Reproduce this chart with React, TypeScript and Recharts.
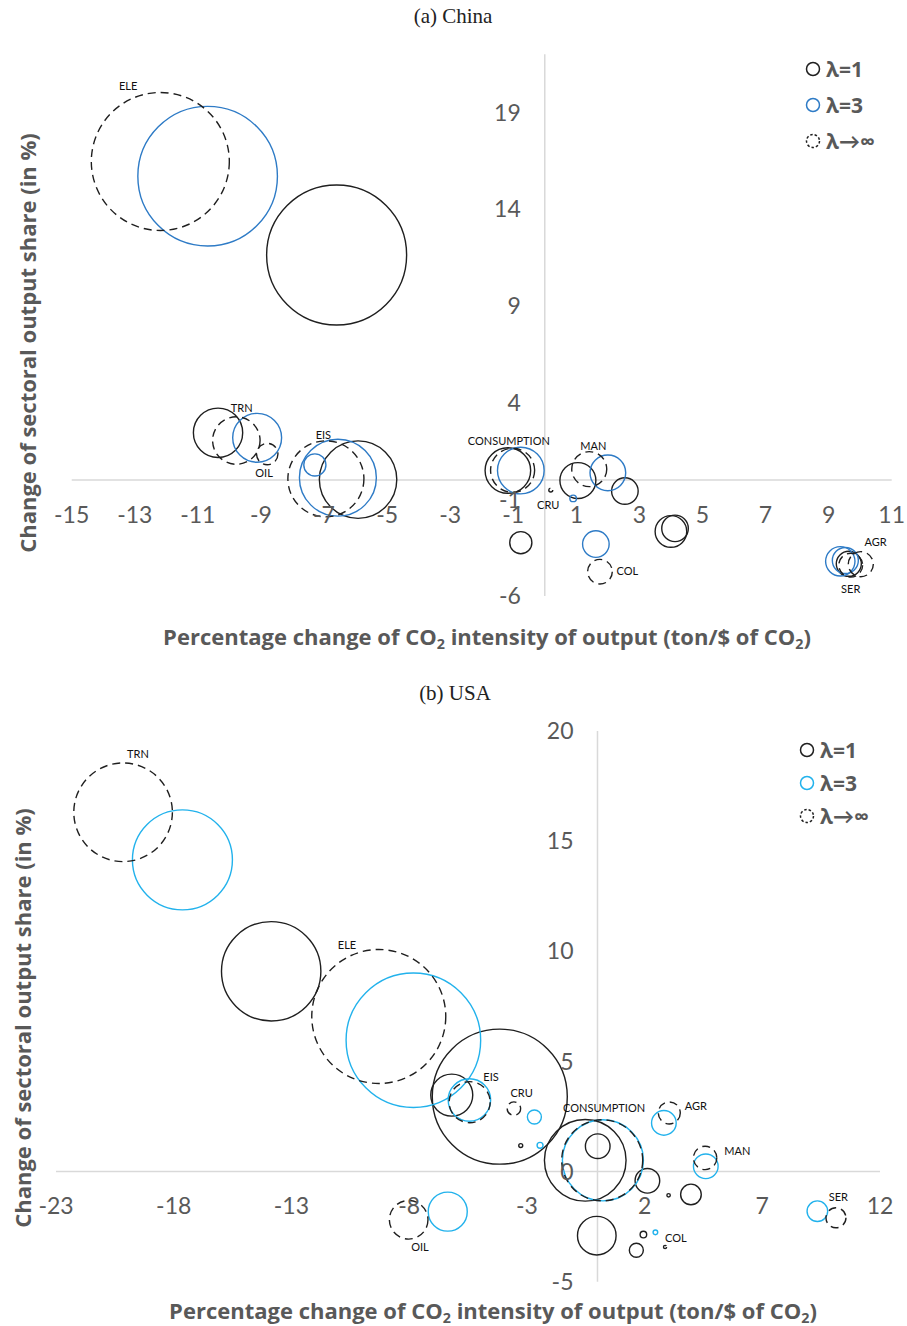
import React from 'react'
import { ScatterChart, Scatter, XAxis, YAxis, ZAxis, ReferenceLine, ReferenceDot, Legend } from 'recharts'

type Pt = { sector: string; x: number; y: number; z: number }
type Tag = { text: string; x: number; y: number }

const FONT = 'Lato, "Open Sans", sans-serif'
const BOLD_FONT = '"Open Sans", Lato, sans-serif'
const GREY = '#595959'
const INK = '#1f1f1f'

// (a) China  x: CO2 intensity change, y: output share change, z: bubble size
const chinaLambda1: Pt[] = [
  { sector: 'ELE', x: -6.6, y: 11.63, z: 100 },
  { sector: 'TRN', x: -10.36, y: 2.44, z: 12.4 },
  { sector: 'EIS', x: -5.92, y: 0.02, z: 30.6 },
  { sector: 'CONSUMPTION', x: -1.17, y: 0.49, z: 10.6 },
  { sector: 'MAN', x: 1.05, y: -0.03, z: 6.6 },
  { sector: 'COL', x: 2.54, y: -0.57, z: 3.6 },
  { sector: 'OIL', x: -0.76, y: -3.24, z: 2.5 },
  { sector: 'CRU', x: 4.13, y: -2.5, z: 3.6 },
  { sector: 'AGR', x: 4.0, y: -2.66, z: 5.1 },
  { sector: 'SER', x: 9.64, y: -4.33, z: 3.2 },
]
const chinaLambda3: Pt[] = [
  { sector: 'ELE', x: -10.69, y: 15.7, z: 99.4 },
  { sector: 'TRN', x: -9.12, y: 2.18, z: 12.2 },
  { sector: 'OIL', x: -7.29, y: 0.78, z: 2.5 },
  { sector: 'EIS', x: -6.56, y: 0.12, z: 30.2 },
  { sector: 'CONSUMPTION', x: -0.76, y: 0.49, z: 11.1 },
  { sector: 'CRU', x: 0.9, y: -0.95, z: 0.22 },
  { sector: 'MAN', x: 2.0, y: 0.37, z: 6.5 },
  { sector: 'COL', x: 1.62, y: -3.31, z: 3.6 },
  { sector: 'SER', x: 9.37, y: -4.2, z: 4.4 },
  { sector: 'AGR', x: 9.53, y: -4.16, z: 3.45 },
]
const chinaLambdaInf: Pt[] = [
  { sector: 'ELE', x: -12.19, y: 16.46, z: 97.2 },
  { sector: 'TRN', x: -9.78, y: 2.04, z: 11.5 },
  { sector: 'OIL', x: -8.8, y: 1.34, z: 2.34 },
  { sector: 'EIS', x: -6.94, y: 0.06, z: 29.5 },
  { sector: 'CONSUMPTION', x: -1.02, y: 0.5, z: 9.9 },
  { sector: 'CRU', x: 0.19, y: -0.52, z: 0.08 },
  { sector: 'MAN', x: 1.41, y: 0.56, z: 6.25 },
  { sector: 'COL', x: 1.75, y: -4.74, z: 3.1 },
  { sector: 'AGR', x: 10.02, y: -4.35, z: 3.2 },
  { sector: 'SER', x: 9.7, y: -4.4, z: 2.9 },
]
const chinaXTicks = [-15, -13, -11, -9, -7, -5, -3, -1, 1, 3, 5, 7, 9, 11]
const chinaYTicks = [-6, -1, 4, 9, 14, 19]
const chinaTags: Tag[] = [
  { text: 'ELE', x: -13.21, y: 20.36 },
  { text: 'TRN', x: -9.61, y: 3.71 },
  { text: 'OIL', x: -8.9, y: 0.38 },
  { text: 'EIS', x: -7.02, y: 2.33 },
  { text: 'CONSUMPTION', x: -1.14, y: 2.03 },
  { text: 'MAN', x: 1.54, y: 1.77 },
  { text: 'CRU', x: 0.11, y: -1.29 },
  { text: 'COL', x: 2.62, y: -4.7 },
  { text: 'AGR', x: 10.49, y: -3.22 },
  { text: 'SER', x: 9.7, y: -5.65 },
]

// (b) USA
const usaLambda1: Pt[] = [
  { sector: 'TRN', x: -13.86, y: 9.09, z: 50.4 },
  { sector: 'ELE', x: -4.15, y: 3.4, z: 93 },
  { sector: 'EIS', x: -6.19, y: 3.47, z: 9 },
  { sector: 'CONSUMPTION', x: -0.52, y: 0.51, z: 34 },
  { sector: 'MAN', x: 0.01, y: 1.15, z: 3.1 },
  { sector: 'AGR', x: 2.12, y: -0.42, z: 3.1 },
  { sector: 'SER', x: 3.97, y: -1.04, z: 2.17 },
  { sector: 'OIL', x: -0.03, y: -2.91, z: 7.6 },
  { sector: 'CRU', x: 1.65, y: -3.57, z: 1 },
  { sector: 'COL', x: 1.95, y: -2.86, z: 0.22 },
  { sector: 'GAS', x: -3.26, y: 1.18, z: 0.08 },
  { sector: 'OTH', x: 3.02, y: -1.08, z: 0.06 },
]
const usaLambda3: Pt[] = [
  { sector: 'TRN', x: -17.63, y: 14.15, z: 51 },
  { sector: 'ELE', x: -7.82, y: 5.96, z: 92.4 },
  { sector: 'EIS', x: -5.44, y: 3.25, z: 9.2 },
  { sector: 'CRU', x: -2.68, y: 2.48, z: 1 },
  { sector: 'CONSUMPTION', x: 0.23, y: 0.51, z: 33.5 },
  { sector: 'AGR', x: 2.82, y: 2.21, z: 3.1 },
  { sector: 'MAN', x: 4.6, y: 0.24, z: 3.1 },
  { sector: 'SER', x: 9.34, y: -1.8, z: 2.17 },
  { sector: 'OIL', x: -6.36, y: -1.82, z: 7.76 },
  { sector: 'COL', x: 2.46, y: -2.76, z: 0.11 },
  { sector: 'GAS', x: -2.44, y: 1.19, z: 0.18 },
]
const usaLambdaInf: Pt[] = [
  { sector: 'TRN', x: -20.15, y: 16.31, z: 49.6 },
  { sector: 'ELE', x: -9.29, y: 7.04, z: 91.6 },
  { sector: 'EIS', x: -5.43, y: 3.15, z: 8.6 },
  { sector: 'CRU', x: -3.55, y: 2.86, z: 0.92 },
  { sector: 'CONSUMPTION', x: 0.2, y: 0.51, z: 33.5 },
  { sector: 'AGR', x: 3.05, y: 2.66, z: 2.47 },
  { sector: 'MAN', x: 4.57, y: 0.62, z: 2.8 },
  { sector: 'SER', x: 10.13, y: -2.1, z: 2.04 },
  { sector: 'OIL', x: -8.02, y: -2.19, z: 7.6 },
  { sector: 'COL', x: 2.87, y: -3.42, z: 0.05 },
]
const usaXTicks = [-23, -18, -13, -8, -3, 2, 7, 12]
const usaYTicks = [-5, 0, 5, 10, 15, 20]
const usaTags: Tag[] = [
  { text: 'TRN', x: -19.52, y: 18.93 },
  { text: 'ELE', x: -10.64, y: 10.26 },
  { text: 'EIS', x: -4.52, y: 4.31 },
  { text: 'CRU', x: -3.22, y: 3.57 },
  { text: 'CONSUMPTION', x: 0.28, y: 2.89 },
  { text: 'AGR', x: 4.18, y: 2.96 },
  { text: 'MAN', x: 5.94, y: 0.95 },
  { text: 'SER', x: 10.23, y: -1.17 },
  { text: 'OIL', x: -7.54, y: -3.44 },
  { text: 'COL', x: 3.33, y: -3.04 },
]

type Series = { name: string; data: Pt[]; color: string; dash?: string }

const ring = (color: string, dash?: string) => (p: any) => {
  const r = Math.sqrt(Math.max(p.size ?? 0, 0) / Math.PI)
  return (
    <circle cx={p.cx} cy={p.cy} r={Math.max(r, 1.2)} fill="none" stroke={color} strokeWidth={1.4} strokeDasharray={dash} />
  )
}

function LegendBox({ series, rowH }: { series: Series[]; rowH: number }) {
  return (
    <div>
      {series.map((s) => (
        <div key={s.name} style={{ display: 'flex', alignItems: 'center', height: rowH }}>
          <svg width={16} height={16}>
            <circle cx={8} cy={8} r={6.5} fill="none" stroke={s.color} strokeWidth={1.5} strokeDasharray={s.dash ? '2.5 2' : undefined} />
          </svg>
          <span style={{ marginLeft: 5, fontFamily: BOLD_FONT, fontWeight: 700, fontSize: 21, color: GREY, lineHeight: 1 }}>{s.name}</span>
        </div>
      ))}
    </div>
  )
}

interface PanelProps {
  top: number
  height: number
  margin: { top: number; right: number; bottom: number; left: number }
  xDomain: [number, number]
  yDomain: [number, number]
  xTicks: number[]
  yTicks: number[]
  xTickOffset: number
  series: Series[]
  tags: Tag[]
  legendPos: { left: number; top: number; rowH: number }
}

function Panel({ top, height, margin, xDomain, yDomain, xTicks, yTicks, xTickOffset, series, tags, legendPos }: PanelProps) {
  const tickStyle = { fill: GREY, fontSize: 23, fontFamily: FONT }
  return (
    <div style={{ position: 'absolute', left: 0, top, width: 907, height }}>
      <ScatterChart width={907} height={height} margin={margin}>
        <XAxis type="number" dataKey="x" domain={xDomain} hide allowDataOverflow />
        <YAxis type="number" dataKey="y" domain={yDomain} hide allowDataOverflow />
        <ZAxis type="number" dataKey="z" domain={[0, 100]} range={[0, Math.PI * 4900]} />
        <ReferenceLine x={0} stroke="#d9d9d9" strokeWidth={1.5} />
        <ReferenceLine y={0} stroke="#d9d9d9" strokeWidth={1.5} />
        {yTicks.map((v) => (
          <ReferenceDot key={'y' + v} x={0} y={v} r={0} fill="none" stroke="none"
            label={{ value: String(v), position: 'left', offset: 24, ...tickStyle }} />
        ))}
        {xTicks.map((v) => (
          <ReferenceDot key={'x' + v} x={v} y={0} r={0} fill="none" stroke="none"
            label={{ value: String(v), position: 'bottom', offset: xTickOffset, ...tickStyle }} />
        ))}
        {series.map((s) => (
          <Scatter key={s.name} name={s.name} data={s.data} shape={ring(s.color, s.dash)} isAnimationActive={false} />
        ))}
        {tags.map((t) => (
          <ReferenceDot key={'t' + t.text} x={t.x} y={t.y} r={0} fill="none" stroke="none"
            label={{ value: t.text, position: 'center', fontSize: 11, fill: '#111', fontFamily: FONT }} />
        ))}
        <Legend layout="vertical" align="center" verticalAlign="middle"
          wrapperStyle={{ left: legendPos.left, top: legendPos.top, width: 110 }}
          content={() => <LegendBox series={series} rowH={legendPos.rowH} />} />
      </ScatterChart>
    </div>
  )
}

const co2 = <>CO<sub style={{ fontSize: '0.65em', verticalAlign: '-0.3em', lineHeight: 0 }}>2</sub></>

function XTitle({ x, y }: { x: number; y: number }) {
  return (
    <div style={{ position: 'absolute', left: x, top: y, transform: 'translate(-50%, -50%)', whiteSpace: 'nowrap',
      fontFamily: BOLD_FONT, fontWeight: 700, fontSize: 22, color: GREY, lineHeight: 1 }}>
      Percentage change of {co2} intensity of output (ton/$ of {co2})
    </div>
  )
}

function YTitle({ x, y }: { x: number; y: number }) {
  return (
    <div style={{ position: 'absolute', left: x, top: y, transform: 'translate(-50%, -50%) rotate(-90deg)', whiteSpace: 'nowrap',
      fontFamily: BOLD_FONT, fontWeight: 700, fontSize: 22, color: GREY, lineHeight: 1 }}>
      Change of sectoral output share (in %)
    </div>
  )
}

function Caption({ x, y, text }: { x: number; y: number; text: string }) {
  return (
    <div style={{ position: 'absolute', left: x, top: y, transform: 'translate(-50%, -50%)', whiteSpace: 'nowrap',
      fontFamily: '"Liberation Serif", serif', fontSize: 21, color: '#222', lineHeight: 1 }}>
      {text}
    </div>
  )
}

export default function App() {
  const chinaSeries: Series[] = [
    { name: 'λ=1', data: chinaLambda1, color: INK },
    { name: 'λ=3', data: chinaLambda3, color: '#2E7BC6' },
    { name: 'λ→∞', data: chinaLambdaInf, color: INK, dash: '8 5' },
  ]
  const usaSeries: Series[] = [
    { name: 'λ=1', data: usaLambda1, color: INK },
    { name: 'λ=3', data: usaLambda3, color: '#22B2EC' },
    { name: 'λ→∞', data: usaLambdaInf, color: INK, dash: '8 5' },
  ]
  return (
    <div style={{ position: 'absolute', left: 0, top: 0, width: 907, height: 1326, background: '#fff', overflow: 'hidden' }}>
      <Caption x={453} y={16} text="(a) China" />
      <Panel top={0} height={660}
        margin={{ top: 54.3, right: 15.3, bottom: 63.9, left: 71.7 }}
        xDomain={[-15, 11]} yDomain={[-6, 22]} xTicks={chinaXTicks} yTicks={chinaYTicks} xTickOffset={27}
        series={chinaSeries} tags={chinaTags} legendPos={{ left: 805, top: 51, rowH: 36 }} />
      <YTitle x={27} y={343} />
      <XTitle x={487} y={636} />

      <Caption x={455} y={693} text="(b) USA" />
      <Panel top={660} height={666}
        margin={{ top: 71, right: 27, bottom: 44.3, left: 56 }}
        xDomain={[-23, 12]} yDomain={[-5, 20]} xTicks={usaXTicks} yTicks={usaYTicks} xTickOffset={26}
        series={usaSeries} tags={usaTags} legendPos={{ left: 799, top: 73.5, rowH: 33 }} />
      <YTitle x={22} y={1018} />
      <XTitle x={493} y={1310} />
    </div>
  )
}
